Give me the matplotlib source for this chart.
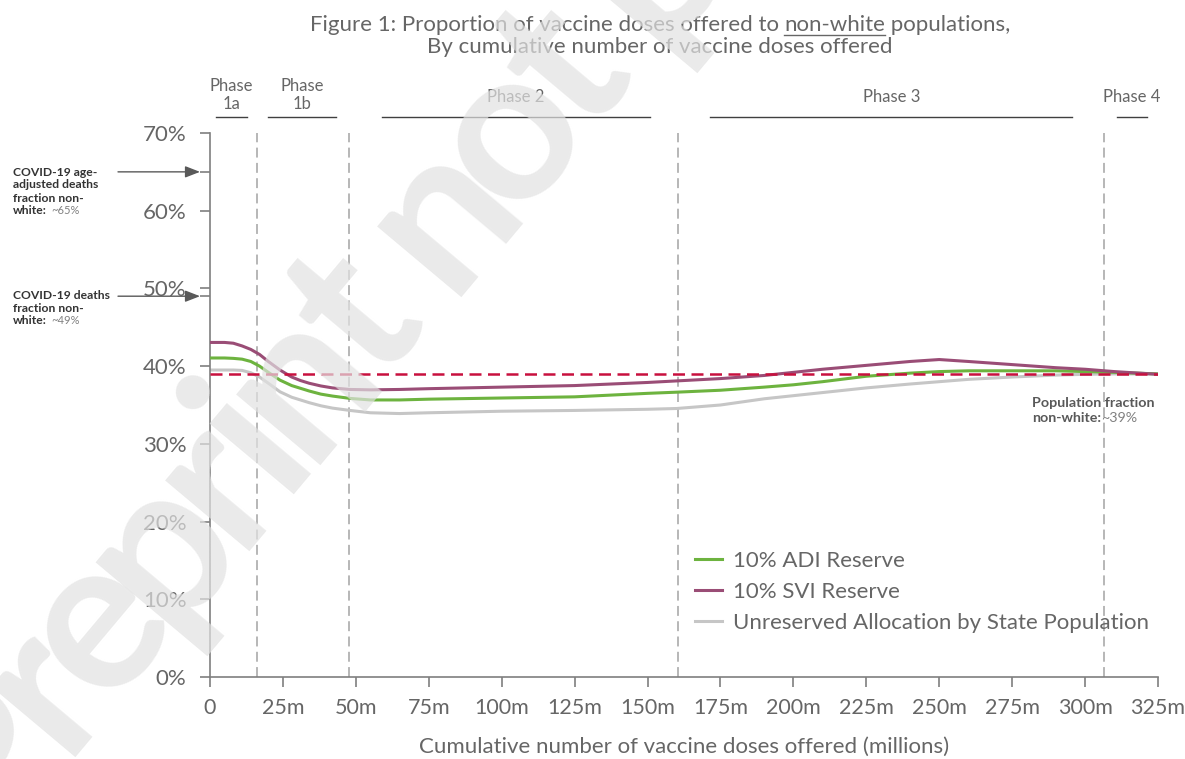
import math
import matplotlib
matplotlib.use("Agg")
import matplotlib.pyplot as plt
from matplotlib.ticker import FixedLocator

plt.rcParams['font.family'] = ['Lato', 'DejaVu Sans']

# ---------------- data ----------------
doses_m = [0, 5, 8, 11, 14, 17, 20, 24, 28, 31, 34, 38, 42, 48, 55, 65, 75, 100, 125,
           150, 160, 175, 190, 200, 210, 225, 240, 250, 260, 275, 290, 300, 310, 325]
adi_reserve = [41.05, 41.05, 41.0, 40.9, 40.6, 40.0, 39.2, 38.2, 37.5, 37.15, 36.8,
               36.4, 36.15, 35.85, 35.65, 35.65, 35.75, 35.9, 36.05, 36.5, 36.65,
               36.9, 37.3, 37.6, 38.0, 38.7, 39.1, 39.3, 39.4, 39.4, 39.4, 39.3,
               39.2, 39.0]
svi_reserve = [43.05, 43.05, 42.95, 42.6, 42.15, 41.5, 40.6, 39.5, 38.6, 38.15, 37.8,
               37.45, 37.2, 37.0, 36.95, 37.0, 37.1, 37.3, 37.5, 37.9, 38.1, 38.4,
               38.8, 39.2, 39.6, 40.1, 40.6, 40.85, 40.6, 40.2, 39.8, 39.6, 39.3,
               38.95]
unreserved = [39.5, 39.5, 39.5, 39.45, 39.15, 38.6, 37.8, 36.7, 36.0, 35.65, 35.3,
              34.9, 34.6, 34.3, 34.0, 33.9, 34.0, 34.2, 34.3, 34.45, 34.55, 35.0,
              35.8, 36.2, 36.6, 37.2, 37.7, 38.0, 38.3, 38.6, 38.85, 38.95, 39.0,
              39.0]
series_labels = ["10% ADI Reserve", "10% SVI Reserve",
                 "Unreserved Allocation by State Population"]

population_fraction = 39.0
deaths_fraction = 49.0
age_adj_deaths_fraction = 65.0

phase_boundaries = [16.1, 47.7, 160.5, 306.6]
phase_names = ["Phase\n1a", "Phase\n1b", "Phase 2", "Phase 3", "Phase 4"]
phase_spans = [(2.1, 12.7), (19.9, 43.2), (59, 150.9), (171.5, 295.6), (311, 321.3)]

x_ticks = [0, 25, 50, 75, 100, 125, 150, 175, 200, 225, 250, 275, 300, 325]
x_tick_labels = ["0"] + [f"{v}m" for v in x_ticks[1:]]
y_ticks = [0, 10, 20, 30, 40, 50, 60, 70]
y_tick_labels = [f"{v}%" for v in y_ticks]

watermark = "Preprint not peer reviewed"

# ---------------- style ----------------
GREEN = "#6DB33F"
PURPLE = "#9A4D76"
GREY = "#C6C6C6"
RED = "#C8103E"
TXT = "#666666"
AXC = "#7F7F7F"

W, H = 1185, 759
fig = plt.figure(figsize=(W / 100, H / 100), dpi=100)
ax = fig.add_axes([210 / W, 1 - 677 / H, (1158 - 210) / W, (677 - 133) / H])


def fx(px):
    return px / W


def fy(py):
    return 1 - py / H


for xb in phase_boundaries:
    ax.axvline(xb, color="#A3A3A3", lw=1.1, ls=(0, (6.5, 3.5)), zorder=1)

ax.plot(doses_m, adi_reserve, color=GREEN, lw=2.2, label=series_labels[0], zorder=3)
ax.plot(doses_m, svi_reserve, color=PURPLE, lw=2.2, label=series_labels[1], zorder=3)
ax.plot(doses_m, unreserved, color=GREY, lw=2.2, label=series_labels[2], zorder=2)
ax.axhline(population_fraction, color=RED, lw=1.8, ls=(0, (4.8, 2.6)), zorder=4)

ax.set_xlim(0, 325)
ax.set_ylim(0, 70)
ax.set_xticks(x_ticks)
ax.set_xticklabels(x_tick_labels)
ax.set_yticks(y_ticks)
ax.set_yticklabels(y_tick_labels)
ax.yaxis.set_minor_locator(FixedLocator([age_adj_deaths_fraction, deaths_fraction]))
for s in ["top", "right"]:
    ax.spines[s].set_visible(False)
for s in ["left", "bottom"]:
    ax.spines[s].set_color(AXC)
    ax.spines[s].set_linewidth(1.2)
ax.tick_params(axis="y", which="both", length=7, color=AXC, width=1.2,
               labelsize=16, labelcolor=TXT, pad=10)
ax.tick_params(axis="x", length=7, color=AXC, width=1.2, labelsize=15.5,
               labelcolor=TXT, pad=8)
ax.set_xlabel("Cumulative number of vaccine doses offered (millions)", fontsize=16,
              color=TXT, labelpad=14)

leg = ax.legend(loc="lower left", bbox_to_anchor=((695 - 210) / 948, 0.081),
                frameon=False, fontsize=16, labelcolor=TXT, handlelength=1.2,
                handletextpad=0.5, labelspacing=0.5, borderaxespad=0, borderpad=0)

# phases
for name, (a, b) in zip(phase_names, phase_spans):
    ax.plot([a, b], [1.0285, 1.0285], transform=ax.get_xaxis_transform(),
            color="#404040", lw=1.0, clip_on=False)
    ypx = 95 if "\n" in name else 97
    xc = ax.transData.transform(((a + b) / 2, 0))[0]
    fig.text(xc / W, fy(ypx), name, ha="center", va="center", fontsize=12,
             color=TXT, linespacing=1.2)

# left annotations
for yv, lines, lasty in [
    (age_adj_deaths_fraction, ["COVID-19 age-", "adjusted deaths", "fraction non-"], 211),
    (deaths_fraction, ["COVID-19 deaths", "fraction non-"], 321),
]:
    y_fig = ax.transData.transform((0, yv))[1] / H
    ax.annotate("", xy=(fx(200), y_fig), xytext=(fx(118), y_fig),
                xycoords="figure fraction", textcoords="figure fraction",
                arrowprops=dict(arrowstyle="-|>,head_length=0.9,head_width=0.35",
                                color="#595959", lw=1.0, shrinkA=0, shrinkB=0))
    n = len(lines)
    for i, t in enumerate(lines):
        fig.text(fx(13), fy(lasty - 13 * (n - i)), t, fontsize=8.7, fontweight="bold",
                 color="#333333", va="center", ha="left")
    fig.text(fx(13), fy(lasty), "white:", fontsize=8.7, fontweight="bold",
             color="#333333", va="center", ha="left")
    fig.text(fx(51), fy(lasty), "~" + f"{yv:.0f}%", fontsize=8, color="#808080",
             va="center", ha="left")

# population annotation
fig.text(fx(1032), fy(403), "Population fraction", fontsize=10.3, fontweight="bold",
         color="#595959", va="center", ha="left")
fig.text(fx(1032), fy(418), "non-white:", fontsize=10.3, fontweight="bold",
         color="#595959", va="center", ha="left")
fig.text(fx(1101), fy(418), f"~{population_fraction:.0f}%", fontsize=10.3,
         color="#808080", va="center", ha="left")

# title with underlined word
title_pre = "Figure 1: Proportion of vaccine doses offered to "
title_u = "non-white"
title_post = " populations,"
tfs = 16
fig.canvas.draw()
r = fig.canvas.get_renderer()


def width(s, **kw):
    t = fig.text(0, 0, s, **kw)
    w = t.get_window_extent(r).width
    t.remove()
    return w


w_pre, w_u, w_post = (width(title_pre, fontsize=tfs), width(title_u, fontsize=tfs),
                      width(title_post, fontsize=tfs))
total = w_pre + w_u + w_post
x0 = 660 - total / 2
ty = fy(25)
for s, xo in [(title_pre, 0), (title_u, w_pre), (title_post, w_pre + w_u)]:
    fig.text(fx(x0 + xo), ty, s, fontsize=tfs, color=TXT, va="center", ha="left")
fig.add_artist(plt.Line2D([fx(x0 + w_pre), fx(x0 + w_pre + w_u)], [fy(35), fy(35)],
                          color=TXT, lw=1.0, transform=fig.transFigure))
fig.text(fx(660), fy(47), "By cumulative number of vaccine doses offered", fontsize=tfs,
         color=TXT, va="center", ha="center")

# watermark: letters laid along a diagonal with tight tracking, semi-transparent on top
wm_fs = 155
em = wm_fs * 100 / 72
track = 0.85
theta = math.radians(50)
u = (math.cos(theta), math.sin(theta))
v = (-math.sin(theta), math.cos(theta))
adv = []
for ch in watermark:
    if ch == " ":
        adv.append(0.26 * em * track)
    else:
        adv.append(width(ch, fontsize=wm_fs, fontweight="bold") * track)
ref_idx = watermark.index("not")
s_ref = sum(adv[:ref_idx]) + adv[ref_idx] / 2
target = (445, H - 215)
sx = target[0] - s_ref * u[0] - 0.26 * em * v[0]
sy = target[1] - s_ref * u[1] - 0.26 * em * v[1]
pos = 0.0
for ch, a in zip(watermark, adv):
    if ch != " ":
        cx = sx + (pos + a / 2) * u[0]
        cy = sy + (pos + a / 2) * u[1]
        fig.text(cx / W, cy / H, ch, fontsize=wm_fs, fontweight="bold",
                 color="#E2E2E2", alpha=0.7, rotation=50, rotation_mode="anchor",
                 ha="center", va="baseline", zorder=10)
    pos += a

fig.savefig("out.png", dpi=100)
